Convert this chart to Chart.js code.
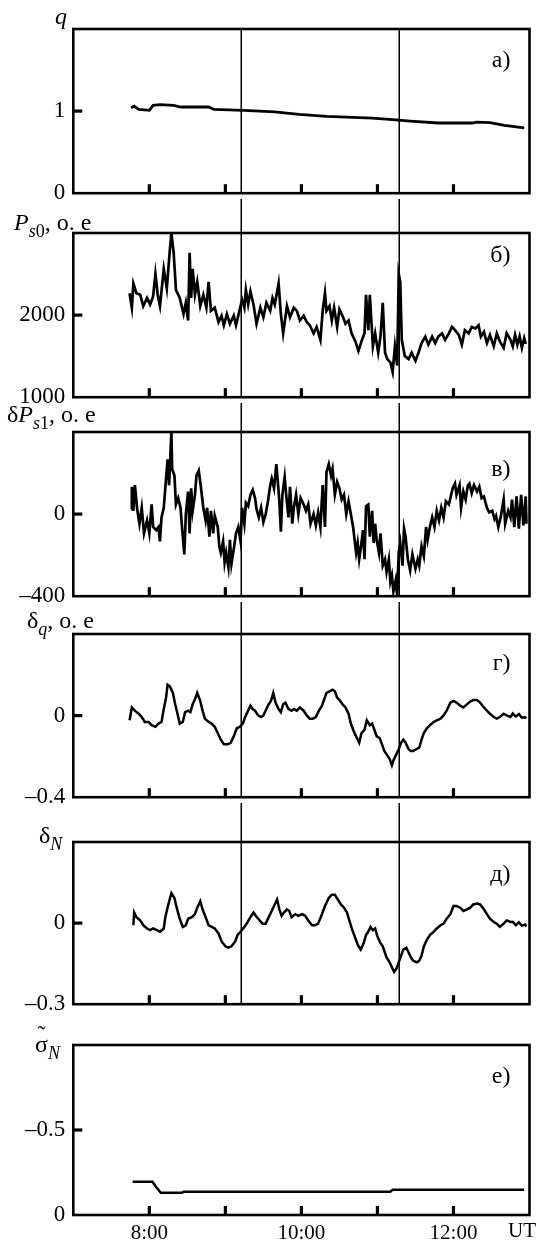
<!DOCTYPE html>
<html>
<head>
<meta charset="utf-8">
<script src="https://cdn.jsdelivr.net/npm/chart.js@4.4.1/dist/chart.umd.min.js"></script>
<style>
  html, body { margin: 0; padding: 0; background: #fff; }
  #wrap { position: relative; width: 545px; height: 1247px; overflow: hidden; background: #fff; }
</style>
</head>
<body>
<div id="wrap"></div>
<script>
// ---- time axis (UT, hours) ----
const hourTicks = [8, 9, 10, 11, 12];
const hourLabelTicks = [8, 10, 12];
const hourLabels = { 8: '8:00', 10: '10:00', 12: '12:00' };
const axisUnit = 'UT';
const markerTimes = [9.2, 11.28];

// ---- а) q ----
const qTime = [7.76, 7.80, 7.86, 8.00, 8.05, 8.14, 8.32, 8.41, 8.78, 8.85, 9.24, 9.65, 9.97, 10.33,
  10.93, 11.20, 11.43, 11.80, 12.25, 12.30, 12.48, 12.67, 12.93];
const qVal = [1.04, 1.06, 1.02, 1.01, 1.07, 1.08, 1.07, 1.05, 1.05, 1.02, 1.01, 0.99, 0.96, 0.935,
  0.915, 0.895, 0.877, 0.855, 0.855, 0.865, 0.86, 0.826, 0.795];
const qTicks = [0, 1];

// ---- б) Ps0 ----
const ps0Time = [7.74,7.77,7.79,7.83,7.88,7.92,7.97,8.01,8.05,8.08,
  8.11,8.14,8.19,8.23,8.27,8.29,8.32,8.35,8.40,8.45,
  8.48,8.51,8.53,8.55,8.57,8.60,8.63,8.67,8.71,8.75,
  8.78,8.81,8.86,8.91,8.95,8.98,9.02,9.06,9.11,9.14,
  9.17,9.22,9.25,9.27,9.30,9.33,9.37,9.41,9.46,9.50,
  9.54,9.59,9.62,9.65,9.70,9.73,9.76,9.81,9.85,9.90,
  9.94,9.98,10.03,10.07,10.11,10.16,10.20,10.25,10.28,10.31,
  10.33,10.37,10.40,10.43,10.47,10.50,10.54,10.58,10.62,10.66,
  10.71,10.75,10.79,10.83,10.85,10.88,10.90,10.94,10.97,11.01,
  11.04,11.07,11.10,11.13,11.17,11.20,11.23,11.26,11.28,11.30,
  11.32,11.36,11.41,11.45,11.50,11.54,11.58,11.63,11.67,11.72,
  11.76,11.80,11.85,11.89,11.94,11.98,12.02,12.07,12.11,12.15,
  12.20,12.24,12.29,12.33,12.36,12.40,12.44,12.48,12.53,12.57,
  12.61,12.66,12.70,12.75,12.78,12.81,12.84,12.87,12.90,12.93,
  12.95];
const ps0Val = [2267,2091,2385,2267,2248,2111,2209,2130,2228,2503,
  2248,2111,2562,2326,2797,3000,2758,2307,2209,2013,
  2150,1934,2758,2209,2562,2248,2405,2111,2248,2091,
  2405,2052,2091,1915,1993,1876,2013,1895,1993,1876,
  1993,2189,2091,2307,2130,2287,2130,1895,2091,1974,
  2150,2052,2209,2130,2385,2013,1778,2111,1974,2091,
  2052,1934,1993,1915,1876,1778,1856,1699,2052,2267,
  2052,2111,1934,2091,1856,2072,1993,1895,1934,1778,
  1680,1562,1680,1778,2248,1817,2248,1621,1778,1542,
  1738,2150,1542,1464,1425,1307,1621,1385,2503,2405,
  1699,1503,1464,1542,1444,1542,1660,1738,1640,1738,
  1660,1738,1778,1699,1778,1856,1817,1758,1640,1817,
  1778,1856,1837,1876,1738,1797,1660,1758,1621,1778,
  1680,1601,1778,1699,1620,1760,1640,1740,1600,1720,
  1650];
const ps0Ticks = [1000, 2000];

// ---- в) δPs1 ----
const dps1Time = [7.76,7.77,7.79,7.81,7.84,7.87,7.90,7.93,7.97,8.00,
  8.03,8.05,8.09,8.12,8.14,8.16,8.19,8.22,8.24,8.26,
  8.29,8.30,8.33,8.35,8.38,8.41,8.44,8.46,8.48,8.51,
  8.53,8.55,8.57,8.60,8.62,8.65,8.68,8.71,8.74,8.76,
  8.79,8.81,8.84,8.86,8.90,8.92,8.94,8.97,8.99,9.01,
  9.04,9.06,9.08,9.11,9.14,9.17,9.20,9.22,9.25,9.27,
  9.30,9.33,9.36,9.39,9.41,9.44,9.47,9.50,9.53,9.56,
  9.59,9.61,9.64,9.67,9.69,9.71,9.73,9.75,9.78,9.80,
  9.83,9.85,9.88,9.90,9.93,9.96,9.99,10.03,10.06,10.09,
  10.12,10.16,10.19,10.22,10.25,
  10.28,10.31,10.33,10.36,10.39,10.41,10.44,10.47,10.50,10.53,
  10.56,10.59,10.62,10.65,10.68,10.70,10.72,10.74,10.76,10.79,
  10.81,10.83,10.85,10.88,10.90,10.93,10.95,10.97,10.99,11.02,
  11.04,11.07,11.10,11.12,11.15,11.17,11.19,11.21,11.24,11.26,
  11.28,11.30,11.33,11.35,11.37,11.40,11.43,11.46,11.50,11.53,
  11.55,11.58,11.61,11.64,11.66,11.69,11.72,11.75,11.78,11.81,
  11.84,11.87,11.90,11.94,11.97,11.99,12.02,12.04,12.08,12.10,
  12.13,12.16,12.19,12.21,12.24,12.27,12.31,12.34,12.37,12.40,
  12.44,12.47,12.51,12.54,12.56,12.59,12.62,12.66,12.68,12.72,
  12.75,12.77,12.80,12.83,12.86,12.89,12.92,12.95,12.96];
const dps1Val = [24,133,16,141,24,-47,31,-94,-31,-94,
  47,-63,-78,-63,-133,-16,31,173,267,141,
  400,220,188,47,78,31,-110,-196,0,110,
  -94,126,16,94,188,212,126,31,-31,31,
  -110,16,-94,-8,-63,-157,-188,-133,-235,-188,
  -259,-125,-243,-172,-94,-63,-133,31,-47,55,
  39,94,118,78,24,-16,31,-39,0,63,
  141,173,126,243,157,63,-86,94,181,94,
  -16,133,-47,31,94,0,78,47,16,47,
  -47,0,-55,8,-63,
  141,-63,204,243,188,220,94,157,126,71,
  94,0,63,0,-63,-125,-188,-141,-220,-141,
  -78,-220,39,47,-110,16,-141,-47,-125,-188,
  -94,-251,-220,-282,-220,-329,-298,-377,-322,-400,
  -188,-141,-251,-71,-110,-220,-274,-196,-267,-220,
  -251,-157,-204,-63,-125,-63,-16,-63,16,-31,
  31,-16,63,47,94,126,149,94,141,31,
  110,71,141,149,102,141,110,133,78,86,
  31,8,16,-24,-8,-63,-16,71,-47,16,
  -16,71,-63,86,-71,94,-55,86,-47];
const dps1Ticks = [-400, 0];

// ---- г) δq ----
const dqTime = [7.74,7.77,7.81,7.86,7.90,7.94,7.99,8.03,8.08,8.12,
  8.16,8.19,8.22,8.24,8.27,8.31,8.34,8.37,8.40,8.44,
  8.47,8.51,8.54,8.57,8.60,8.63,8.67,8.70,8.73,8.78,
  8.82,8.86,8.91,8.94,8.98,9.03,9.07,9.11,9.15,9.19,
  9.23,9.26,9.29,9.33,9.36,9.39,9.43,9.47,9.50,9.54,
  9.57,9.60,9.63,9.66,9.70,9.73,9.76,9.79,9.83,9.87,
  9.90,9.94,9.98,10.03,10.07,10.11,10.15,10.19,10.23,10.27,
  10.30,10.33,10.37,10.41,10.44,10.47,10.51,10.54,10.58,10.62,
  10.65,10.69,10.73,10.76,10.79,10.83,10.86,10.90,10.93,10.96,
  10.99,11.03,11.06,11.09,11.12,11.16,11.19,11.21,11.24,11.28,
  11.31,11.34,11.37,11.41,11.44,11.47,11.51,11.55,11.58,11.61,
  11.65,11.69,11.74,11.78,11.83,11.87,11.91,11.96,12.00,12.04,
  12.09,12.13,12.18,12.22,12.26,12.31,12.35,12.40,12.44,12.48,
  12.53,12.57,12.61,12.66,12.70,12.75,12.78,12.82,12.86,12.90,
  12.94,12.96];
const dqVal = [-0.023,0.040,0.024,0.009,-0.007,-0.031,-0.031,-0.047,-0.055,-0.039,
  -0.031,0.032,0.088,0.151,0.143,0.111,0.056,0.009,-0.039,-0.031,
  0.017,0.024,0.017,0.056,0.080,0.111,0.072,0.024,-0.015,-0.031,
  -0.039,-0.055,-0.094,-0.118,-0.141,-0.141,-0.133,-0.102,-0.062,-0.055,
  -0.039,-0.007,0.017,0.048,0.032,0.024,0.001,-0.007,0.001,0.032,
  0.056,0.072,0.111,0.064,0.032,0.017,0.056,0.064,0.032,0.024,
  0.032,0.024,0.040,0.024,0.001,-0.015,-0.015,-0.007,0.024,0.048,
  0.080,0.111,0.119,0.127,0.119,0.088,0.072,0.056,0.040,0.009,
  -0.039,-0.078,-0.110,-0.133,-0.086,-0.070,-0.023,-0.047,-0.039,-0.070,
  -0.102,-0.110,-0.141,-0.173,-0.189,-0.212,-0.244,-0.220,-0.197,-0.165,
  -0.133,-0.118,-0.133,-0.165,-0.173,-0.173,-0.165,-0.157,-0.118,-0.086,
  -0.062,-0.047,-0.031,-0.023,-0.015,0.001,0.024,0.064,0.072,0.064,
  0.048,0.040,0.056,0.069,0.076,0.076,0.064,0.040,0.024,0.009,
  -0.007,-0.015,-0.007,0.009,0.001,-0.007,0.010,-0.005,0.008,-0.010,
  -0.008,-0.012];
const dqTicks = [-0.4, 0];

// ---- д) δN ----
const dnTime = [7.79,7.80,7.83,7.88,7.92,7.97,8.01,8.05,8.10,8.14,
  8.19,8.21,8.25,8.29,8.33,8.36,8.40,8.44,8.48,8.51,
  8.56,8.60,8.63,8.67,8.70,8.74,8.78,8.82,8.86,8.91,
  8.95,9.00,9.04,9.08,9.13,9.16,9.20,9.25,9.28,9.33,
  9.37,9.40,9.45,9.49,9.53,9.57,9.60,9.64,9.68,9.71,
  9.74,9.77,9.81,9.84,9.87,9.92,9.96,10.01,10.05,10.09,
  10.14,10.18,10.22,10.27,10.31,10.36,10.40,10.44,10.48,10.52,
  10.56,10.60,10.63,10.67,10.71,10.74,10.78,10.82,10.85,10.89,
  10.91,10.94,10.97,11.00,11.04,11.07,11.09,11.12,11.16,11.19,
  11.22,11.25,11.28,11.31,11.34,11.38,11.41,11.44,11.47,11.52,
  11.55,11.58,11.61,11.65,11.69,11.74,11.78,11.83,11.87,11.91,
  11.96,12.00,12.04,12.09,12.13,12.18,12.22,12.26,12.31,12.35,
  12.40,12.44,12.48,12.53,12.57,12.61,12.66,12.70,12.75,12.78,
  12.82,12.86,12.90,12.94,12.96];
const dnVal = [-0.008,0.039,0.022,0.010,-0.008,-0.020,-0.026,-0.020,-0.026,-0.032,
  -0.020,0.022,0.069,0.111,0.093,0.057,0.016,-0.014,-0.008,0.016,
  0.022,0.033,0.057,0.081,0.051,0.022,-0.008,-0.014,-0.020,-0.038,
  -0.068,-0.086,-0.091,-0.086,-0.068,-0.044,-0.032,-0.014,-0.002,0.022,
  0.039,0.027,0.010,-0.002,-0.002,0.022,0.039,0.063,0.087,0.051,
  0.027,0.039,0.051,0.045,0.022,0.033,0.027,0.033,0.027,0.010,
  -0.008,-0.008,-0.002,0.033,0.063,0.093,0.105,0.105,0.087,0.069,
  0.057,0.039,0.010,-0.026,-0.056,-0.080,-0.098,-0.074,-0.044,-0.026,
  -0.014,-0.026,-0.020,-0.050,-0.074,-0.086,-0.103,-0.127,-0.145,-0.163,
  -0.181,-0.169,-0.145,-0.121,-0.098,-0.091,-0.109,-0.127,-0.139,-0.145,
  -0.139,-0.121,-0.086,-0.062,-0.044,-0.032,-0.020,-0.008,-0.002,0.016,
  0.033,0.063,0.063,0.057,0.045,0.051,0.057,0.069,0.072,0.069,
  0.051,0.033,0.016,0.004,-0.002,-0.014,-0.002,0.010,0.004,0.005,
  -0.008,0.003,-0.010,-0.005,-0.012];
const dnTicks = [-0.3, 0];

// ---- е) σ̃N (axis runs downward from 0) ----
const sigTime = [7.78, 8.04, 8.09, 8.15, 8.43, 8.45, 11.17, 11.20, 12.93];
const sigVal = [-0.196, -0.196, -0.165, -0.131, -0.131, -0.137, -0.137, -0.149, -0.149];
const sigTicks = [0, -0.5];

// ---- layout ----
const W = 545, H = 1247;
const SERIF = '"Liberation Serif", "Times New Roman", serif';
const PLOT_LEFT = 73.3, PLOT_RIGHT = 529.5;
const TITLE_SIZE = 24, TAG_SIZE = 24, TICK_SIZE = 23, HOUR_SIZE = 21;

const panels = [
  { frame: [29, 199], time: qTime, vals: qVal, min: 0, max: 2, ticks: qTicks, lw: 2.8,
    title: [{ t: 'q', it: 1 }], tx: 55, ty: 24, tag: 'а)', tagY: 61 },
  { frame: [233, 403], time: ps0Time, vals: ps0Val, min: 1000, max: 3000, ticks: ps0Ticks, lw: 2.7,
    title: [{ t: 'P', it: 1 }, { t: 's', it: 1, sub: 1 }, { t: '0', sub: 1 }, { t: ', о. е' }], tx: 14, ty: 230, tag: 'б)', tagY: 256 },
  { frame: [432, 602], time: dps1Time, vals: dps1Val, min: -400, max: 400, ticks: dps1Ticks, lw: 2.7,
    title: [{ t: 'δ' }, { t: 'P', it: 1 }, { t: 's', it: 1, sub: 1 }, { t: '1', sub: 1 }, { t: ', о. е' }], tx: 7, ty: 422, tag: 'в)', tagY: 470 },
  { frame: [634, 803], time: dqTime, vals: dqVal, min: -0.4, max: 0.4, ticks: dqTicks, lw: 2.5,
    title: [{ t: 'δ' }, { t: 'q', it: 1, sub: 1 }, { t: ', о. е' }], tx: 27, ty: 628, tag: 'г)', tagY: 664 },
  { frame: [842, 1010], time: dnTime, vals: dnVal, min: -0.3, max: 0.3, ticks: dnTicks, lw: 2.5,
    title: [{ t: 'δ' }, { t: 'N', it: 1, sub: 1 }], tx: 39, ty: 843, tag: 'д)', tagY: 875 },
  { frame: [1045, 1215], time: sigTime, vals: sigVal, min: -1, max: 0, reverse: true, ticks: sigTicks, lw: 2.5,
    title: [{ t: 'σ', tilde: 1 }, { t: 'N', it: 1, sub: 1 }], tx: 35, ty: 1052, tag: 'е)', tagY: 1077 }
];

function fmt(v) { return v < 0 ? '–' + Math.abs(v) : String(v); }

function richText(ctx, parts, x, y, size) {
  let cx = x;
  ctx.textAlign = 'left';
  ctx.textBaseline = 'alphabetic';
  for (const p of parts) {
    const fs = p.sub ? Math.round(size * 0.74) : size;
    ctx.font = (p.it ? 'italic ' : '') + fs + 'px ' + SERIF;
    ctx.fillText(p.t, cx, y + (p.sub ? size * 0.3 : 0));
    const w = ctx.measureText(p.t).width;
    if (p.tilde) {
      ctx.textAlign = 'center';
      ctx.fillText('˜', cx + w / 2, y - size * 0.4);
      ctx.textAlign = 'left';
    }
    cx += w;
  }
}

// frame, inward ticks, marker lines and captions for one panel
function decor(p, i, canvasTop, last) {
  return {
    id: 'decor' + i,
    afterDatasetsDraw(chart) {
      const { ctx, chartArea: a, scales: { x, y } } = chart;
      ctx.save();
      ctx.strokeStyle = '#000';
      ctx.fillStyle = '#000';
      ctx.lineCap = 'butt';
      if (!last) {
        ctx.lineWidth = 1.5;
        for (const t of markerTimes) {
          const px = Math.round(x.getPixelForValue(t)) + 0.25;
          ctx.beginPath();
          ctx.moveTo(px, i === 0 ? a.top : 0);
          ctx.lineTo(px, a.bottom);
          ctx.stroke();
        }
      }
      ctx.lineWidth = 2.6;
      ctx.strokeRect(a.left, a.top, a.right - a.left, a.bottom - a.top);
      ctx.lineWidth = 3.2;
      for (const t of hourTicks) {
        const px = x.getPixelForValue(t);
        ctx.beginPath();
        ctx.moveTo(px, a.bottom);
        ctx.lineTo(px, a.bottom - 9);
        ctx.stroke();
      }
      for (const v of p.ticks) {
        const py = y.getPixelForValue(v);
        if (Math.abs(py - a.bottom) < 3 || Math.abs(py - a.top) < 3) continue;
        ctx.beginPath();
        ctx.moveTo(a.left, py);
        ctx.lineTo(a.left + 9, py);
        ctx.stroke();
      }
      richText(ctx, p.title, p.tx, p.ty - canvasTop, TITLE_SIZE);
      ctx.font = TAG_SIZE + 'px ' + SERIF;
      ctx.textAlign = 'right';
      ctx.textBaseline = 'middle';
      ctx.fillText(p.tag, a.right - 19, p.tagY - canvasTop);
      if (last) {
        ctx.font = HOUR_SIZE + 'px ' + SERIF;
        ctx.textAlign = 'right';
        ctx.textBaseline = 'top';
        ctx.fillText(axisUnit, W - 9, a.bottom + 6);
      }
      ctx.restore();
    }
  };
}

const wrap = document.getElementById('wrap');
panels.forEach((p, i) => {
  const last = i === panels.length - 1;
  const top = i === 0 ? 0 : panels[i - 1].frame[1];
  const padBottom = last ? 0 : 16;
  const height = last ? H - top : p.frame[1] + padBottom - top;
  const holder = document.createElement('div');
  holder.style.cssText = `position:absolute;left:0;top:${top}px;width:${W}px;height:${height}px;`;
  const cv = document.createElement('canvas');
  cv.width = W;
  cv.height = height;
  cv.style.width = W + 'px';
  cv.style.height = height + 'px';
  holder.appendChild(cv);
  wrap.appendChild(holder);

  new Chart(cv, {
    type: 'line',
    data: {
      datasets: [{
        data: p.time.map((t, k) => ({ x: t, y: p.vals[k] })),
        borderColor: '#000',
        borderWidth: p.lw,
        pointRadius: 0,
        tension: 0,
        fill: false,
        borderJoinStyle: 'miter'
      }]
    },
    options: {
      responsive: false,
      animation: false,
      devicePixelRatio: 1,
      events: [],
      layout: { padding: { top: p.frame[0] - top, bottom: padBottom, left: 0, right: W - PLOT_RIGHT } },
      plugins: { legend: { display: false }, tooltip: { enabled: false }, title: { display: false } },
      scales: {
        x: {
          type: 'linear', min: 7, max: 13, display: last,
          grid: { display: false, drawTicks: false },
          border: { display: false },
          afterBuildTicks: s => { s.ticks = hourLabelTicks.map(v => ({ value: v })); },
          afterFit: s => { s.height = last ? H - p.frame[1] : 0; },
          ticks: {
            autoSkip: false, maxRotation: 0, padding: 6, color: '#000',
            font: { family: SERIF, size: HOUR_SIZE },
            callback: v => hourLabels[v] || ''
          }
        },
        y: {
          type: 'linear', min: p.min, max: p.max, reverse: !!p.reverse,
          grid: { display: false, drawTicks: false },
          border: { display: false },
          afterBuildTicks: s => { s.ticks = p.ticks.map(v => ({ value: v })); },
          afterFit: s => { s.width = PLOT_LEFT; },
          ticks: {
            autoSkip: false, padding: 8, color: '#000',
            font: { family: SERIF, size: TICK_SIZE },
            callback: v => fmt(v)
          }
        }
      }
    },
    plugins: [decor(p, i, top, last)]
  });
});
</script>
</body>
</html>
